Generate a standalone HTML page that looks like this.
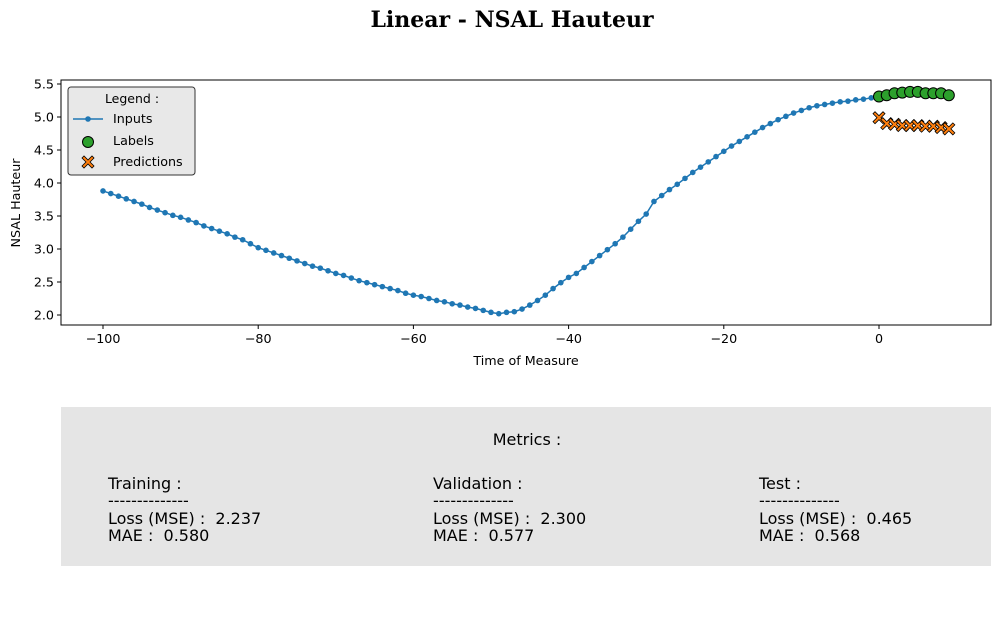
<!DOCTYPE html>
<html><head><meta charset="utf-8"><style>
body{margin:0;background:#fff;width:1001px;height:629px;overflow:hidden;font-family:"DejaVu Sans","Liberation Sans",sans-serif}
svg text{font-family:"DejaVu Sans","Liberation Sans",sans-serif;white-space:pre}
</style></head><body>
<svg id="chart" width="1001" height="629" xml:space="preserve">
<text x="512" y="27" text-anchor="middle" font-weight="bold" font-size="22" style="font-family:'DejaVu Serif','Liberation Serif',serif">Linear - NSAL Hauteur</text>
<g id="axes"></g>
<rect x="61" y="407" width="930" height="159" fill="#e5e5e5"/>
<g font-size="16" fill="#000">
<text x="527" y="445" text-anchor="middle">Metrics :</text>
<g><text x="108" y="489">Training :</text><text x="108" y="506">--------------</text><text x="108" y="524">Loss (MSE) :  2.237</text><text x="108" y="541">MAE :  0.580</text></g>
<g><text x="433" y="489">Validation :</text><text x="433" y="506">--------------</text><text x="433" y="524">Loss (MSE) :  2.300</text><text x="433" y="541">MAE :  0.577</text></g>
<g><text x="759" y="489">Test :</text><text x="759" y="506">--------------</text><text x="759" y="524">Loss (MSE) :  0.465</text><text x="759" y="541">MAE :  0.568</text></g>
</g>
</svg>
<script>
const inputs=[3.88,3.84,3.80,3.76,3.72,3.68,3.63,3.59,3.55,3.51,
3.48,3.44,3.40,3.35,3.31,3.27,3.23,3.18,3.14,3.08,
3.02,2.98,2.94,2.90,2.86,2.82,2.78,2.74,2.71,2.67,
2.63,2.60,2.56,2.52,2.49,2.46,2.43,2.40,2.37,2.33,
2.30,2.28,2.25,2.22,2.20,2.17,2.15,2.12,2.10,2.07,
2.04,2.02,2.04,2.05,2.09,2.15,2.22,2.30,2.40,2.49,
2.57,2.63,2.72,2.81,2.90,2.99,3.08,3.18,3.30,3.42,
3.53,3.72,3.81,3.90,3.98,4.07,4.16,4.24,4.32,4.40,
4.48,4.56,4.63,4.70,4.77,4.84,4.90,4.96,5.01,5.06,
5.10,5.14,5.17,5.19,5.21,5.23,5.24,5.26,5.27,5.29];
const inputStart=-100;
const labels=[5.31,5.33,5.36,5.37,5.38,5.38,5.36,5.36,5.36,5.33];
const predictions=[4.99,4.90,4.89,4.87,4.87,4.87,4.86,4.86,4.84,4.82];
const xTicks=[-100,-80,-60,-40,-20,0];
const yTicks=[2.0,2.5,3.0,3.5,4.0,4.5,5.0,5.5];
const NS="http://www.w3.org/2000/svg";
const L=61,R=991,T=80,B=325;
const X=v=>879+(v)*7.76;
const Y=v=>315-(v-2)*66;
const g=document.getElementById('axes');
function mk(t,a,p){const e=document.createElementNS(NS,t);for(const k in a)e.setAttribute(k,a[k]);(p||g).appendChild(e);return e;}
const frame=mk('rect',{x:L,y:T,width:R-L,height:B-T,fill:'none',stroke:'#000','stroke-width':1});


xTicks.forEach(v=>{mk('line',{x1:X(v),x2:X(v),y1:B,y2:B+4,stroke:'#000'});
const t=mk('text',{x:X(v),y:B+18,'text-anchor':'middle','font-size':12.7});t.textContent=(v<0?'\u2212'+(-v):v);

});
yTicks.forEach(v=>{mk('line',{x1:L-4,x2:L,y1:Y(v),y2:Y(v),stroke:'#000'});
const t=mk('text',{x:L-7,y:Y(v)+4.5,'text-anchor':'end','font-size':12.7});t.textContent=v.toFixed(1);

});
const xt=mk('text',{x:526,y:365,'text-anchor':'middle','font-size':12.7});xt.textContent='Time of Measure';


const yt=mk('text',{x:20,y:203,'text-anchor':'middle','font-size':12.7,transform:'rotate(-90 20 203)'});yt.textContent='NSAL Hauteur';


const pts=inputs.map((v,i)=>X(inputStart+i)+','+Y(v)).join(' ');
const pl=mk('polyline',{points:pts,fill:'none',stroke:'#1f77b4','stroke-width':1.5});


inputs.forEach((v,i)=>{const c=mk('circle',{cx:X(inputStart+i),cy:Y(v),r:2.8,fill:'#1f77b4'});

});
labels.forEach((v,i)=>{const c=mk('circle',{cx:X(i),cy:Y(v),r:5.5,fill:'#2ca02c',stroke:'#000','stroke-width':1});

});
function xm(cx,cy,p,s){const d=`M${cx-s} ${cy-s+2}l2 -2l${s-2} ${s-2}l${s-2} ${-(s-2)}l2 2l${-(s-2)} ${s-2}l${s-2} ${s-2}l-2 2l${-(s-2)} ${-(s-2)}l${-(s-2)} ${s-2}l-2 -2l${s-2} ${-(s-2)}z`;
return mk('path',{d:d,fill:'#ff7f0e',stroke:'#000','stroke-width':0.8},p);}
predictions.forEach((v,i)=>{const m=xm(X(i),Y(v),g,6);

});
const lg=mk('g',{});


mk('rect',{x:68,y:87,width:127,height:88,rx:3,fill:'#e8e8e8',stroke:'#333','stroke-width':1},lg);
const lt=mk('text',{x:132,y:103,'text-anchor':'middle','font-size':12.5},lg);lt.textContent='Legend :';
mk('line',{x1:73,x2:103,y1:119,y2:119,stroke:'#1f77b4','stroke-width':1.5},lg);
mk('circle',{cx:88,cy:119,r:2.8,fill:'#1f77b4'},lg);
mk('circle',{cx:88,cy:142,r:5.5,fill:'#2ca02c',stroke:'#000'},lg);
xm(88,162,lg,6);
[['Inputs',123],['Labels',145],['Predictions',166]].forEach(a=>{const t=mk('text',{x:113,y:a[1],'font-size':12.7},lg);t.textContent=a[0];

});
</script>
</body></html>
